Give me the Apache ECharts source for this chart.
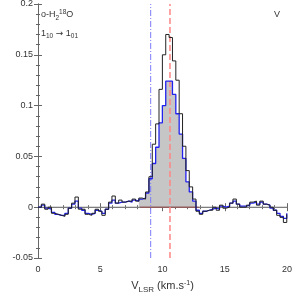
<!DOCTYPE html>
<html><head><meta charset="utf-8">
<script src="https://cdn.jsdelivr.net/npm/echarts@6/dist/echarts.min.js"></script>
<style>html,body{margin:0;padding:0;background:#fff}#c{width:292px;height:293px}</style>
</head><body><div id="c"></div>
<script>
// channel left edges (km/s)
const velocity = [0,0.27,0.54,0.81,1.08,1.35,1.62,1.89,2.16,2.43,2.70,2.97,3.24,3.51,3.78,4.05,4.32,4.59,4.86,5.13,5.40,5.67,5.94,6.21,6.48,6.75,7.02,7.29,7.56,7.83,8.10,8.37,8.64,8.91,9.18,9.45,9.72,9.99,10.26,10.53,10.80,11.07,11.34,11.61,11.88,12.15,12.42,12.69,12.96,13.23,13.50,13.77,14.04,14.31,14.58,14.85,15.12,15.39,15.66,15.93,16.20,16.47,16.74,17.01,17.28,17.55,17.82,18.09,18.36,18.63,18.90,19.17,19.44,19.71,19.98];
const blackT = [0.000,0.003,-0.002,0.000,-0.006,-0.007,-0.008,-0.009,-0.007,-0.001,0.004,0.010,-0.002,-0.002,-0.007,-0.008,-0.006,-0.002,-0.004,-0.008,-0.002,0.005,0.011,0.004,0.007,0.005,0.006,0.006,0.008,0.006,0.009,0.008,0.015,0.030,0.062,0.082,0.116,0.150,0.170,0.167,0.144,0.125,0.092,0.060,0.036,0.020,0.008,-0.004,-0.007,-0.004,-0.003,-0.003,0.000,-0.003,0.002,-0.001,0.000,0.004,0.008,0.003,0.000,0.000,0.002,0.005,0.006,0.002,0.006,0.003,0.002,0.000,-0.003,-0.008,-0.010,-0.015,-0.007];
const blueT = [0.000,0.002,-0.001,-0.002,-0.005,-0.007,-0.008,-0.008,-0.006,-0.001,0.003,0.006,-0.001,-0.003,-0.006,-0.007,-0.006,-0.003,-0.004,-0.006,-0.002,0.004,0.007,0.004,0.005,0.005,0.006,0.005,0.007,0.006,0.008,0.009,0.014,0.028,0.043,0.059,0.083,0.100,0.124,0.124,0.111,0.092,0.072,0.048,0.025,0.015,0.006,-0.003,-0.006,-0.004,-0.003,-0.002,-0.001,-0.002,0.001,0.000,0.001,0.004,0.006,0.003,0.001,0.001,0.002,0.004,0.005,0.003,0.005,0.003,0.002,-0.001,-0.003,-0.006,-0.009,-0.011,-0.006];
const vEnd = 20;
const fillRange = [8.2, 12.9];
const vBlueLine = 9.05;
const vRedLine = 10.6;
const xTicks = [0,5,10,15,20];
const yTicks = [-0.05,0,0.05,0.1,0.15,0.2];

function stepData(vals){
  const d = velocity.map((v,i)=>[v, vals[i]]);
  d.push([vEnd, vals[vals.length-1]]);
  return d;
}
const blueData = stepData(blueT);
const blackData = stepData(blackT);
const fillData = blueData.filter(p => p[0] >= fillRange[0]-0.3 && p[0] <= fillRange[1]);

const chart = echarts.init(document.getElementById('c'), null, {renderer:'canvas'});
const txt = '#333';
const frame = '#666';
const fontFam = 'Liberation Sans, Arial, sans-serif';
const axisCommon = {
  type:'value', axisLine:{show:true, lineStyle:{color:frame, width:1}},
  axisTick:{show:true, inside:true, length:4, lineStyle:{color:frame}},
  minorTick:{show:true, splitNumber:5, length:2, lineStyle:{color:frame}},
  splitLine:{show:false}
};
chart.setOption({
  animation:false,
  grid:{left:38, right:5, top:4, bottom:35, containLabel:false, outerBoundsMode:'none'},
  xAxis:[
    Object.assign({}, axisCommon, {min:0, max:20, interval:5, position:'bottom',
      axisLabel:{color:txt, fontSize:9, fontFamily:fontFam, margin:7, formatter:v=>xTicks.includes(v)?String(v):''},
      name:'V{sub|LSR} (km.s{sup|-1})', nameLocation:'middle', nameGap:20,
      nameTextStyle:{color:txt, fontSize:11, fontFamily:fontFam,
        rich:{sub:{fontSize:8, color:txt, fontFamily:fontFam, padding:[8,0,0,0]}, sup:{fontSize:7, color:txt, fontFamily:fontFam, padding:[0,0,6,0]}}}}),
    Object.assign({}, axisCommon, {min:0, max:20, interval:5, position:'top', axisLabel:{show:false}})
  ],
  yAxis:[
    Object.assign({}, axisCommon, {min:-0.05, max:0.2, interval:0.05, position:'left',
      axisLabel:{color:txt, fontSize:9, fontFamily:fontFam, margin:5, formatter:v=>{const r=Math.round(v*100)/100; return String(r);}},
      name:'T{sub|mb} (K)', nameLocation:'middle', nameGap:26, nameRotate:90,
      nameTextStyle:{color:txt, fontSize:11, fontFamily:fontFam,
        rich:{sub:{fontSize:8, color:txt, fontFamily:fontFam, padding:[8,0,0,0]}}}}),
    Object.assign({}, axisCommon, {min:-0.05, max:0.2, interval:0.05, position:'right', axisLabel:{show:false}})
  ],
  series:[
    {type:'line', step:'end', data:fillData, symbol:'none', lineStyle:{width:0, opacity:0},
      areaStyle:{color:'#c6c6c6', opacity:1, origin:0}, z:1, silent:true},
    {type:'line', data:[[0,0],[vEnd,0]], symbol:'none', lineStyle:{color:'#888', width:1}, z:2, silent:true},
    {type:'line', data:[[fillRange[0],0],[fillRange[1],0]], symbol:'none', lineStyle:{color:'#9a4a4a', width:1}, z:3, silent:true},
    {type:'line', data:[[vBlueLine,-0.05],[vBlueLine,0.2]], symbol:'none', lineStyle:{color:'#7c7cff', width:1, type:[6,2,1,2]}, z:4, silent:true},
    {type:'line', data:[[vRedLine,-0.05],[vRedLine,0.2]], symbol:'none', lineStyle:{color:'#ff8585', width:1.5, type:[6,3]}, z:4, silent:true},
    {type:'line', step:'end', data:blueData, symbol:'none', lineStyle:{color:'#2222ee', width:1.3}, z:5, silent:true},
    {type:'line', step:'end', data:blackData, symbol:'none', lineStyle:{color:'#222', width:1}, z:6, silent:true}
  ],
  graphic:[
    {type:'text', left:41, top:9, style:{text:'o-H{s|2}{p|18}O', fill:txt, fontSize:9, fontFamily:fontFam,
      rich:{s:{fontSize:6.5, fill:txt, padding:[6,0,0,0]}, p:{fontSize:6.5, fill:txt, padding:[0,0,5,0]}}}},
    {type:'text', left:41, top:29, style:{text:'1{s|10} {a|\u2192} 1{s|01}', fill:txt, fontSize:9, fontFamily:fontFam,
      rich:{s:{fontSize:6.5, fill:txt, padding:[6,0,0,0]}, a:{fontSize:9, fill:txt, fontFamily:'DejaVu Sans'}}}},
    {type:'text', left:274, top:10, style:{text:'V', fill:txt, fontSize:9, fontFamily:fontFam}}
  ]
});
</script></body></html>
